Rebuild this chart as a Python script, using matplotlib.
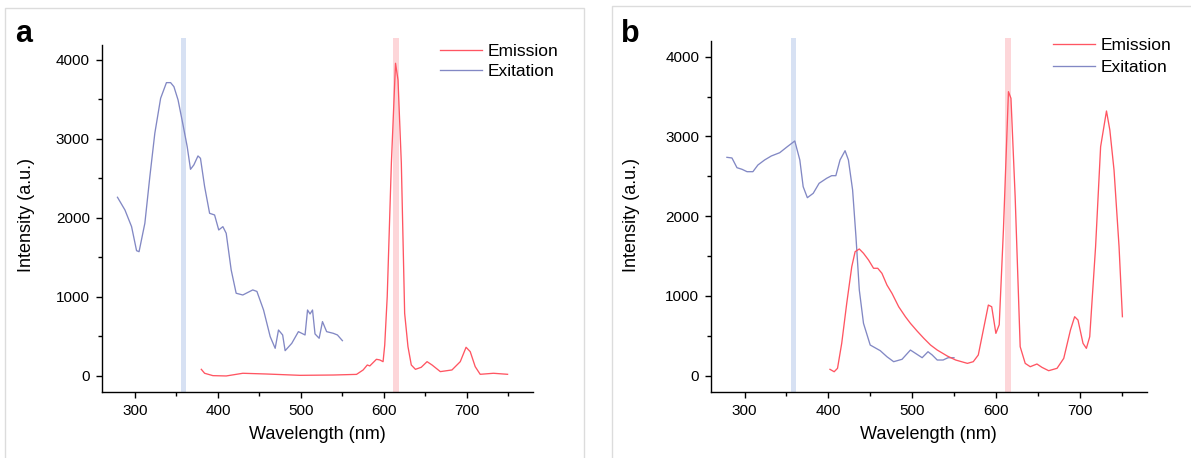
import matplotlib
matplotlib.use("Agg")
import matplotlib.pyplot as plt
from matplotlib.patches import Rectangle
from matplotlib.ticker import MultipleLocator

plt.rcParams['font.family'] = ['Liberation Sans', 'DejaVu Sans']

# panel a
exc_a_wl = [279, 288, 296, 302, 305, 312, 318, 324, 331, 338, 343, 347, 352, 358, 363, 367,
            371, 376, 379, 384, 390, 396, 401, 406, 410, 416, 422, 430, 442, 447, 455, 463,
            469, 473, 478, 481, 489, 497, 505, 508, 511, 514, 517, 522, 526, 531, 539, 544, 550]
exc_a_int = [2262, 2101, 1890, 1586, 1573, 1933, 2523, 3072, 3515, 3713, 3713, 3662, 3494, 3177,
             2903, 2616, 2671, 2785, 2755, 2397, 2059, 2038, 1848, 1890, 1806, 1342, 1047, 1025,
             1089, 1070, 835, 498, 350, 582, 519, 320, 413, 561, 519, 835, 785, 835, 532, 477,
             688, 561, 540, 519, 447]
em_a_wl = [380, 384, 394, 410, 430, 458, 499, 539, 567, 575, 580, 583, 591, 595, 599, 601,
           604, 609, 614, 617, 621, 625, 629, 633, 638, 645, 652, 658, 668, 682, 692, 699,
           704, 710, 716, 732, 749]
em_a_int = [84, 34, 4, 0, 34, 25, 8, 12, 20, 76, 139, 127, 211, 203, 181, 392, 1004, 2692,
            3958, 3747, 2692, 793, 371, 139, 84, 110, 181, 139, 55, 76, 181, 363, 308, 118,
            21, 34, 21]

# panel b
exc_b_wl = [279, 285, 291, 297, 303, 310, 316, 324, 332, 342, 351, 360, 366, 370, 375, 382,
            389, 398, 404, 409, 414, 420, 424, 429, 433, 437, 442, 450, 462, 470, 478, 488,
            498, 504, 512, 519, 524, 530, 537, 543, 550]
exc_b_int = [2738, 2730, 2608, 2588, 2558, 2558, 2642, 2705, 2755, 2796, 2871, 2943, 2705,
             2370, 2232, 2287, 2412, 2475, 2508, 2508, 2705, 2821, 2705, 2329, 1743, 1075,
             657, 385, 314, 238, 176, 206, 322, 281, 226, 301, 260, 197, 197, 226, 226]
em_b_wl = [402, 407, 411, 416, 422, 428, 432, 437, 442, 448, 454, 459, 464, 470, 476, 484,
           492, 498, 506, 514, 522, 530, 542, 552, 566, 573, 579, 585, 591, 595, 600, 604,
           609, 615, 618, 623, 629, 635, 641, 649, 655, 663, 673, 681, 689, 694, 698, 704,
           708, 712, 719, 725, 732, 736, 741, 747, 751]
em_b_int = [80, 50, 93, 406, 908, 1367, 1555, 1589, 1535, 1451, 1347, 1347, 1284, 1137, 1033,
            865, 740, 657, 560, 469, 385, 322, 247, 197, 155, 176, 260, 573, 886, 865, 531,
            640, 1827, 3561, 3478, 2245, 364, 155, 113, 147, 105, 63, 93, 218, 573, 740, 698,
            406, 343, 489, 1618, 2871, 3319, 3081, 2579, 1618, 740]

exc_band = (355, 362)
em_band = (611, 618)

W, H = 1191, 458
fig = plt.figure(figsize=(W / 100, H / 100), dpi=100)


def px(x0, y0, x1, y1):
    # pixel box -> figure fraction rect
    return [x0 / W, 1 - y1 / H, (x1 - x0) / W, (y1 - y0) / H]


def draw_panel(rect, ylim, spine_top, exc_wl, exc_int, em_wl, em_int, letter, letter_x, ylab_x, leg_xy, leg_sp):
    ax = fig.add_axes(rect)
    ax.axvspan(*exc_band, color='#d7e1f3', lw=0, zorder=0)
    ax.axvspan(*em_band, color='#fdd6d9', lw=0, zorder=0)
    ax.plot(em_wl, em_int, color='#ff5562', lw=0.95, label='Emission', zorder=3)
    ax.plot(exc_wl, exc_int, color='#8288c4', lw=0.95, label='Exitation', zorder=2)
    ax.set_xlim(260, 780)
    ax.set_ylim(*ylim)
    ax.spines['top'].set_visible(False)
    ax.spines['right'].set_visible(False)
    ax.spines['left'].set_bounds(ylim[0], spine_top)
    for s in ('left', 'bottom'):
        ax.spines[s].set_linewidth(1.0)
    ax.xaxis.set_major_locator(MultipleLocator(100))
    ax.xaxis.set_minor_locator(MultipleLocator(50))
    ax.set_yticks([0, 1000, 2000, 3000, 4000])
    ax.set_yticks([500, 1500, 2500, 3500], minor=True)
    ax.tick_params(which='major', length=4.5, width=1, labelsize=11, pad=4)
    ax.tick_params(which='minor', length=3, width=1)
    ax.set_xlabel('Wavelength (nm)', fontsize=13, labelpad=6)
    ax.set_ylabel('Intensity (a.u.)', fontsize=13)
    ax.yaxis.set_label_coords(ylab_x, 0.5)
    ax.legend(loc='upper left', bbox_to_anchor=(leg_xy[0] / W, 1 - leg_xy[1] / H),
              bbox_transform=fig.transFigure,
              frameon=False, fontsize=12.5, handlelength=2.4, handletextpad=0.35,
              labelspacing=leg_sp, borderpad=0, borderaxespad=0)
    fig.text(letter_x / W, 1 - 42 / H, letter, fontsize=22, fontweight='bold', ha='left', va='baseline')
    return ax


draw_panel(px(101.7, 38, 533.3, 392), (-203, 4278), 4190, exc_a_wl, exc_a_int, em_a_wl, em_a_int,
           'a', 15, -0.155, (440, 44), 0.28)
draw_panel(px(711, 38, 1146.7, 392), (-204, 4234), 4200, exc_b_wl, exc_b_int, em_b_wl, em_b_int,
           'b', 621, -0.163, (1053, 38), 0.38)

# light panel frames
fig.add_artist(Rectangle((5 / W, -0.01), (584 - 5) / W, 1 - 8 / H + 0.01, transform=fig.transFigure,
                         fill=False, ec='#dcdcdc', lw=1))
fig.add_artist(Rectangle((612 / W, -0.01), 1, 1 - 6 / H + 0.01, transform=fig.transFigure,
                         fill=False, ec='#dcdcdc', lw=1))

fig.savefig('out.png', dpi=100)
